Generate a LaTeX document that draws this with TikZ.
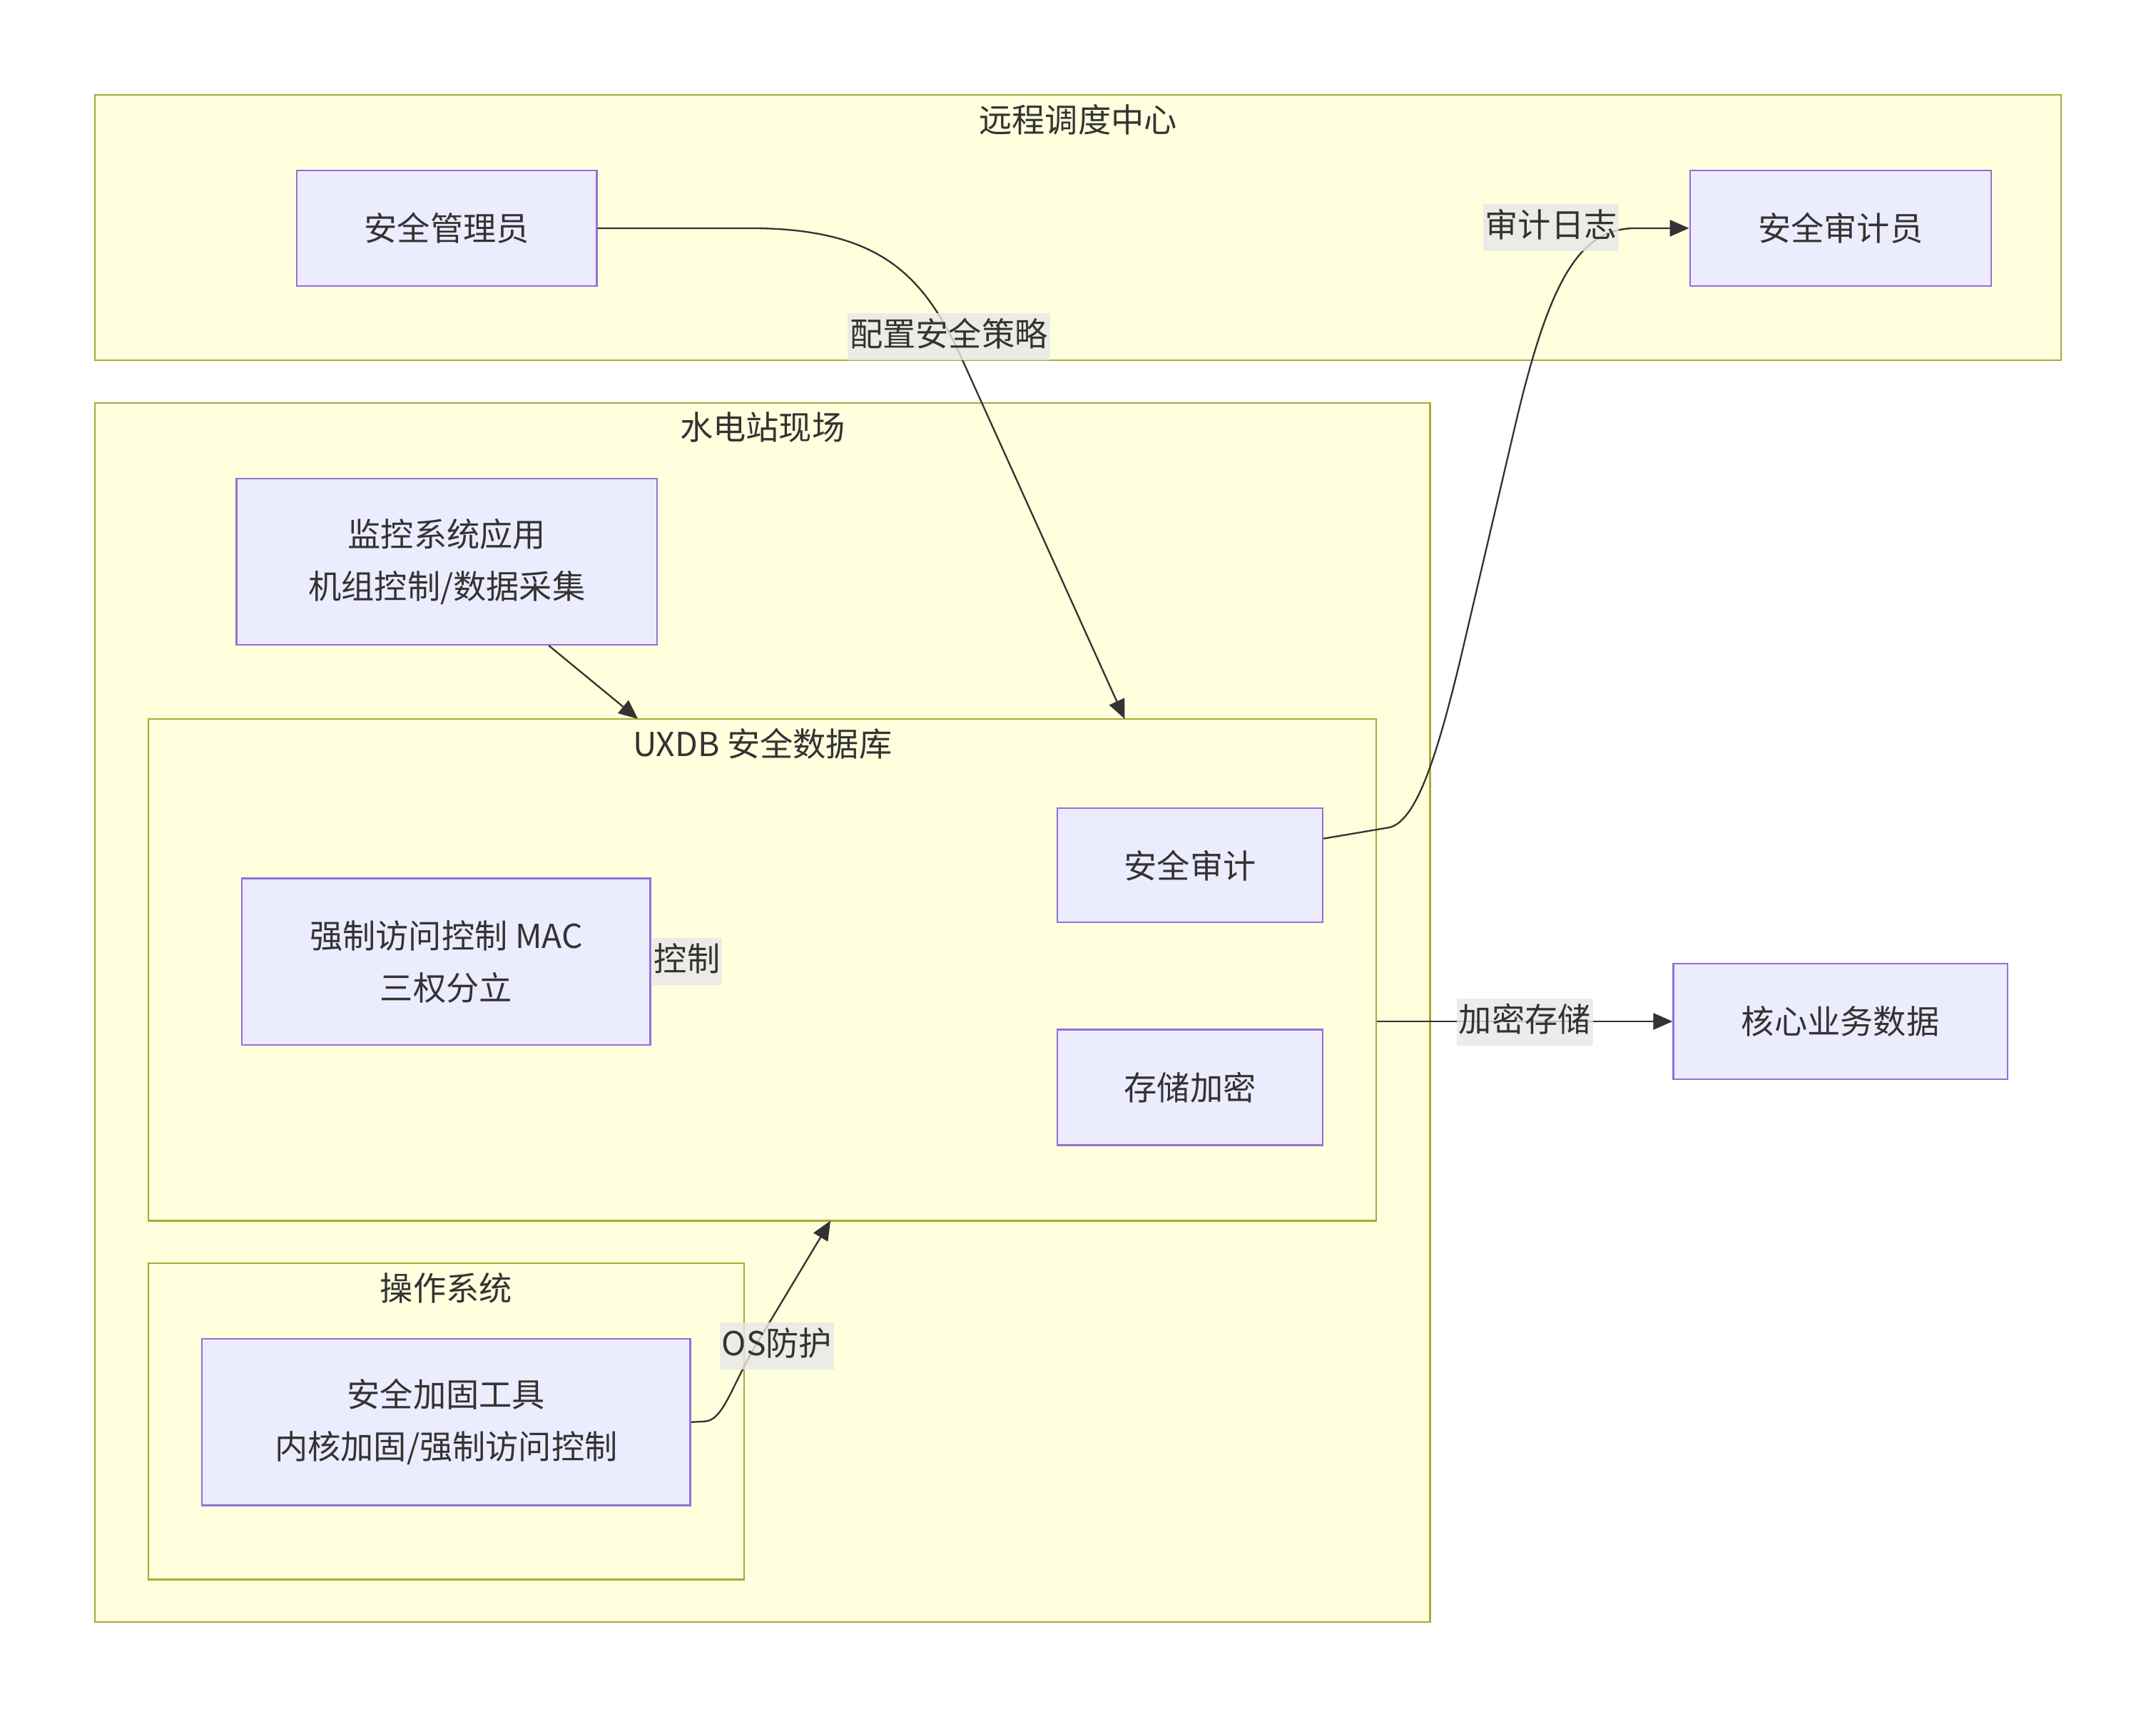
\documentclass[tikz,border=0pt]{standalone}
\usepackage{fontspec}
\setmainfont{Noto Sans CJK SC}
\usetikzlibrary{arrows.meta}
\definecolor{nodefill}{HTML}{ECECFF}
\definecolor{nodeline}{HTML}{9370DB}
\definecolor{clusterfill}{HTML}{FFFFDE}
\definecolor{clusterline}{HTML}{AAAA33}
\definecolor{edgeline}{HTML}{333333}
\definecolor{labelfill}{HTML}{E8E8E8}

\begin{document}
\begin{tikzpicture}[x=1pt,y=-1pt,line width=1.2pt,
	>={Triangle[length=14pt,width=12pt]},
	every node/.style={text=edgeline,font=\fontsize{24}{38}\selectfont},
	cluster/.style={draw=clusterline,fill=clusterfill},
	box/.style={draw=nodeline,fill=nodefill,align=center,inner sep=0pt},
	elabel/.style={fill=labelfill,fill opacity=0.8,text opacity=1,inner xsep=1.5pt,inner ysep=4pt,text height=20pt,text depth=6pt},
	link/.style={draw=edgeline,->}]
	\useasboundingbox[fill=white] (0,0) rectangle (1568,1250);
	% subgraphs
		\node[cluster,minimum width=1430pt,minimum height=193pt] (remote) at (784,165.5) {};
		\node (remotetitle) at (784,87) {远程调度中心};
		\node[cluster,minimum width=971pt,minimum height=887pt] (site) at (554.5,736.5) {};
		\node (sitetitle) at (554.5,311) {水电站现场};
		\node[cluster,minimum width=893pt,minimum height=365pt] (uxdb) at (554.5,705.5) {};
		\node (uxdbtitle) at (554.5,541) {UXDB 安全数据库};
		\node[cluster,minimum width=433pt,minimum height=230pt] (os) at (324.5,1034) {};
		\node (ostitle) at (324.5,937) {操作系统};
	% nodes
		\node[box,minimum width=218pt,minimum height=84pt] (admin) at (325,166) {安全管理员};
		\node[box,minimum width=219pt,minimum height=84pt] (auditor) at (1338.5,166) {安全审计员};
		\node[box,minimum width=306pt,minimum height=121pt] (monitor) at (325,408.5) {监控系统应用\\机组控制/数据采集};
		\node[box,minimum width=193pt,minimum height=83pt] (audit) at (865.5,629.5) {安全审计};
		\node[box,minimum width=297pt,minimum height=121pt] (mac) at (324.5,699.5) {强制访问控制 MAC\\三权分立};
		\node[box,minimum width=193pt,minimum height=84pt] (encrypt) at (865.5,791) {存储加密};
		\node[box,minimum width=355pt,minimum height=121pt] (harden) at (324.5,1034.5) {安全加固工具\\内核加固/强制访问控制};
		\node[box,minimum width=243pt,minimum height=84pt] (coredata) at (1338.5,743) {核心业务数据};
	% arrow ends on the subgraph border
		\coordinate (uxdbtop) at (818,523);
		\coordinate (uxdbin) at (464,523);
		\coordinate (uxdbbottom) at (604,888);
	% edges
		\draw[link] (admin.east) -- (545,166) .. controls (640,166) and (672,200) .. (700,262) -- (uxdbtop);
		\draw[link] (monitor) -- (uxdbin);
		\draw[link] ([yshift=19.5pt]audit.east) -- (1010,602) .. controls (1030,598) and (1045,550) .. (1062,480) -- (1103,305) .. controls (1128,200) and (1150,166) .. (1190,166) -- (auditor.west);
		\draw[link] (uxdb.east |- coredata.west) -- (coredata.west);
		\draw[link] (harden.east) -- (512,1034) .. controls (526,1034) and (532,1008) .. (550,978) -- (uxdbbottom);
	% edge labels
		\node[elabel] (policylbl) at (690,245) {配置安全策略};
		\node[elabel] (loglbl) at (1128,165.5) {审计日志};
		\node[elabel,anchor=west] (ctrllbl) at (mac.east) {控制};
		\node[elabel] (oslbl) at (565,979) {OS防护};
		\node[elabel] (storelbl) at (1109,743.5) {加密存储};
\end{tikzpicture}
\end{document}
